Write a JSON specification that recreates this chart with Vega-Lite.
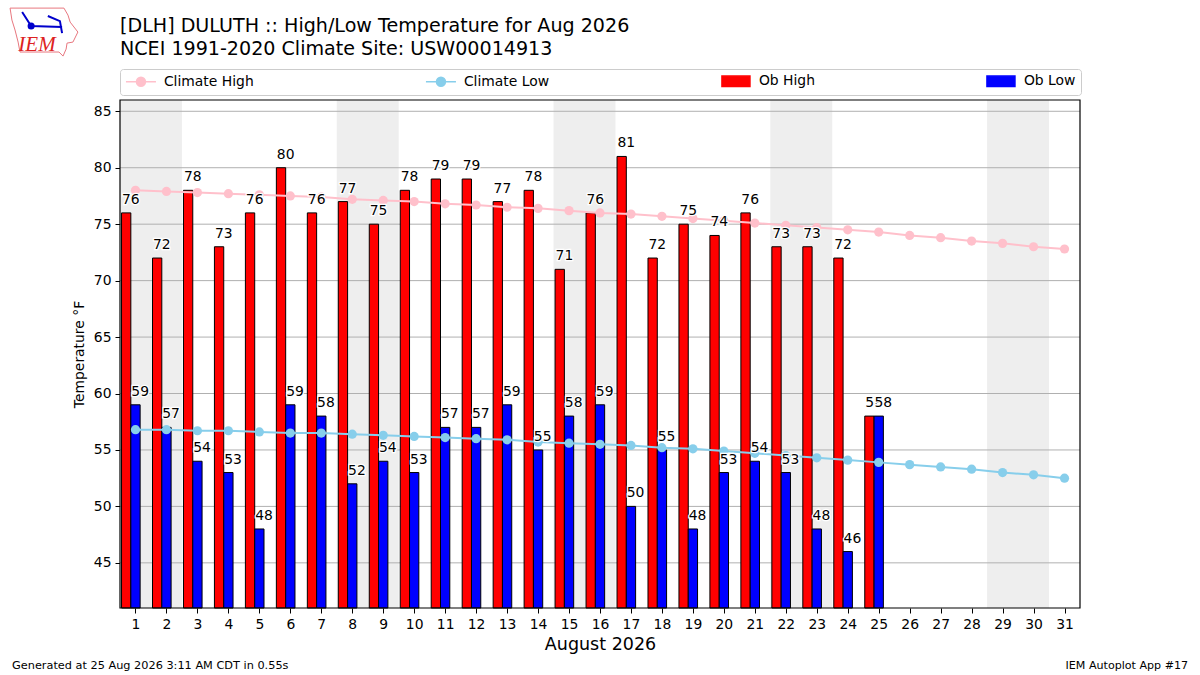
{
  "$schema": "https://vega.github.io/schema/vega-lite/v6.json",
  "width": 960,
  "height": 508,
  "autosize": {"type": "none"},
  "padding": {"left": 120, "top": 100, "right": 120, "bottom": 67},
  "background": "white",
  "title": {
    "text": ["[DLH] DULUTH :: High/Low Temperature for Aug 2026", "NCEI 1991-2020 Climate Site: USW00014913"],
    "anchor": "start",
    "frame": "group",
    "align": "left",
    "fontSize": 19.1,
    "fontWeight": "normal",
    "color": "black",
    "lineHeight": 23,
    "offset": -53
  },
  "config": {
    "font": "DejaVu Sans",
    "view": {"stroke": null}
  },
  "datasets": {
    "daily": [
      {"day": 1, "high": 76, "low": 59, "climate_high": 78.0, "climate_low": 56.8},
      {"day": 2, "high": 72, "low": 57, "climate_high": 77.9, "climate_low": 56.8},
      {"day": 3, "high": 78, "low": 54, "climate_high": 77.8, "climate_low": 56.7},
      {"day": 4, "high": 73, "low": 53, "climate_high": 77.7, "climate_low": 56.7},
      {"day": 5, "high": 76, "low": 48, "climate_high": 77.6, "climate_low": 56.6},
      {"day": 6, "high": 80, "low": 59, "climate_high": 77.5, "climate_low": 56.5},
      {"day": 7, "high": 76, "low": 58, "climate_high": 77.4, "climate_low": 56.5},
      {"day": 8, "high": 77, "low": 52, "climate_high": 77.2, "climate_low": 56.4},
      {"day": 9, "high": 75, "low": 54, "climate_high": 77.1, "climate_low": 56.3},
      {"day": 10, "high": 78, "low": 53, "climate_high": 77.0, "climate_low": 56.2},
      {"day": 11, "high": 79, "low": 57, "climate_high": 76.8, "climate_low": 56.1},
      {"day": 12, "high": 79, "low": 57, "climate_high": 76.7, "climate_low": 56.0},
      {"day": 13, "high": 77, "low": 59, "climate_high": 76.5, "climate_low": 55.9},
      {"day": 14, "high": 78, "low": 55, "climate_high": 76.4, "climate_low": 55.7},
      {"day": 15, "high": 71, "low": 58, "climate_high": 76.2, "climate_low": 55.6},
      {"day": 16, "high": 76, "low": 59, "climate_high": 76.0, "climate_low": 55.5},
      {"day": 17, "high": 81, "low": 50, "climate_high": 75.9, "climate_low": 55.4},
      {"day": 18, "high": 72, "low": 55, "climate_high": 75.7, "climate_low": 55.2},
      {"day": 19, "high": 75, "low": 48, "climate_high": 75.5, "climate_low": 55.1},
      {"day": 20, "high": 74, "low": 53, "climate_high": 75.3, "climate_low": 54.9},
      {"day": 21, "high": 76, "low": 54, "climate_high": 75.1, "climate_low": 54.7},
      {"day": 22, "high": 73, "low": 53, "climate_high": 74.9, "climate_low": 54.5},
      {"day": 23, "high": 73, "low": 48, "climate_high": 74.7, "climate_low": 54.3},
      {"day": 24, "high": 72, "low": 46, "climate_high": 74.5, "climate_low": 54.1},
      {"day": 25, "high": 58, "low": 58, "climate_high": 74.3, "climate_low": 53.9},
      {"day": 26, "high": null, "low": null, "climate_high": 74.0, "climate_low": 53.7},
      {"day": 27, "high": null, "low": null, "climate_high": 73.8, "climate_low": 53.5},
      {"day": 28, "high": null, "low": null, "climate_high": 73.5, "climate_low": 53.3},
      {"day": 29, "high": null, "low": null, "climate_high": 73.3, "climate_low": 53.0},
      {"day": 30, "high": null, "low": null, "climate_high": 73.0, "climate_low": 52.8},
      {"day": 31, "high": null, "low": null, "climate_high": 72.8, "climate_low": 52.5}
    ],
    "weekends": [
      {"start": 0.5, "end": 2.5},
      {"start": 7.5, "end": 9.5},
      {"start": 14.5, "end": 16.5},
      {"start": 21.5, "end": 23.5},
      {"start": 28.5, "end": 30.5}
    ],
    "grid": [{"temp": 45}, {"temp": 50}, {"temp": 55}, {"temp": 60}, {"temp": 65}, {"temp": 70}, {"temp": 75}, {"temp": 80}, {"temp": 85}],
    "logo": [
      {"i": 1, "day": -3.05, "temp": 94.14},
      {"i": 2, "day": -1.31, "temp": 94.14},
      {"i": 3, "day": -1.18, "temp": 93.52},
      {"i": 4, "day": -1.11, "temp": 92.9},
      {"i": 5, "day": -0.86, "temp": 92.02},
      {"i": 6, "day": -1.02, "temp": 91.13},
      {"i": 7, "day": -1.21, "temp": 91.04},
      {"i": 8, "day": -1.24, "temp": 90.51},
      {"i": 9, "day": -1.34, "temp": 89.89},
      {"i": 10, "day": -1.47, "temp": 90.25},
      {"i": 11, "day": -2.73, "temp": 90.25},
      {"i": 12, "day": -2.79, "temp": 91.13},
      {"i": 13, "day": -2.89, "temp": 92.2},
      {"i": 14, "day": -2.99, "temp": 93.08},
      {"i": 15, "day": -3.05, "temp": 94.14}
    ],
    "station": [
      {"part": "arm", "i": 1, "day": -2.66, "temp": 93.79},
      {"part": "arm", "i": 2, "day": -2.37, "temp": 92.55},
      {"part": "arm", "i": 3, "day": -1.37, "temp": 92.46},
      {"part": "vane", "i": 1, "day": -1.83, "temp": 93.44},
      {"part": "vane", "i": 2, "day": -1.44, "temp": 92.99},
      {"part": "vane", "i": 3, "day": -1.37, "temp": 91.93}
    ]
  },
  "data": {"name": "daily"},
  "encoding": {
    "x": {
      "field": "day",
      "type": "quantitative",
      "scale": {"domain": [0.5, 31.5], "nice": false, "zero": false, "padding": 0},
      "axis": {
        "title": "August 2026",
        "titleFontSize": 17.5,
        "titleFontWeight": "normal",
        "titleColor": "black",
        "titlePadding": 5,
        "values": [1, 2, 3, 4, 5, 6, 7, 8, 9, 10, 11, 12, 13, 14, 15, 16, 17, 18, 19, 20, 21, 22, 23, 24, 25, 26, 27, 28, 29, 30, 31],
        "format": "d",
        "labelFontSize": 13.9,
        "labelColor": "black",
        "labelPadding": 4,
        "labelFlush": false,
        "tickColor": "black",
        "tickSize": 5,
        "domain": false,
        "grid": false
      }
    }
  },
  "layer": [
    {
      "data": {"name": "weekends"},
      "mark": {"type": "rect", "color": "#eeeeee"},
      "encoding": {
        "x": {"field": "start", "type": "quantitative"},
        "x2": {"field": "end"}
      }
    },
    {
      "data": {"name": "grid"},
      "mark": {"type": "rule", "color": "#b0b0b0", "strokeWidth": 1},
      "encoding": {
        "x": null,
        "y": {
          "field": "temp",
          "type": "quantitative",
          "scale": {"domain": [41, 86], "nice": false, "zero": false},
          "axis": {
            "title": "Temperature °F",
            "titleFontSize": 13.9,
            "titleFontWeight": "normal",
            "titleColor": "black",
            "titlePadding": 7,
            "values": [45, 50, 55, 60, 65, 70, 75, 80, 85],
            "labelFontSize": 13.9,
            "labelColor": "black",
            "labelPadding": 4,
            "tickColor": "black",
            "tickSize": 5,
            "domain": false,
            "grid": false
          }
        }
      }
    },
    {
      "mark": {"type": "bar", "width": 9.3, "xOffset": -9.3, "stroke": "black", "strokeWidth": 1},
      "encoding": {
        "y": {"field": "high", "type": "quantitative"},
        "y2": {"datum": 41},
        "color": {
          "datum": "Ob High",
          "scale": {
            "domain": ["Climate High", "Climate Low", "Ob High", "Ob Low"],
            "range": ["pink", "skyblue", "#ff0000", "#0000ff"]
          },
          "legend": {
            "title": null,
            "orient": "none",
            "legendX": 0,
            "legendY": -31,
            "columns": 4,
            "columnPadding": 168,
            "padding": 5,
            "strokeColor": "#cccccc",
            "fillColor": "white",
            "cornerRadius": 3,
            "symbolSize": 100,
            "symbolOffset": 9,
            "labelOffset": 16,
            "labelFontSize": 13.9,
            "labelColor": "black",
            "symbolOpacity": 1,
            "symbolStrokeWidth": 1.5,
            "symbolStrokeColor": "black",
            "encoding": {
              "symbols": {
                "shape": {"value": {"expr": "indexof(datum.value, 'Ob') === 0 ? 'M-2.8,-1.05H2.8V1.05H-2.8Z' : 'M-3,0H3M-0.9,0A0.9,0.9 0 1 1 0.9,0A0.9,0.9 0 1 1 -0.9,0Z'"}},
                "fill": {"value": {"expr": "datum.value === 'Climate High' ? 'pink' : datum.value === 'Climate Low' ? 'skyblue' : datum.value === 'Ob High' ? '#ff0000' : '#0000ff'"}},
                "stroke": {"value": {"expr": "datum.value === 'Climate High' ? 'pink' : datum.value === 'Climate Low' ? 'skyblue' : 'black'"}}
              }
            }
          }
        }
      }
    },
    {
      "mark": {"type": "bar", "width": 9.3, "stroke": "black", "strokeWidth": 1},
      "encoding": {
        "y": {"field": "low", "type": "quantitative"},
        "y2": {"datum": 41},
        "color": {"datum": "Ob Low"}
      }
    },
    {
      "data": {"values": [{"start": 0.5, "end": 31.5}]},
      "mark": {"type": "rect", "fill": "transparent", "stroke": "black", "strokeWidth": 1.2},
      "encoding": {
        "x": {"field": "start", "type": "quantitative"},
        "x2": {"field": "end"}
      }
    },
    {
      "mark": {"type": "line", "strokeWidth": 2, "point": {"filled": true, "size": 85, "opacity": 1}},
      "encoding": {
        "y": {"field": "climate_high", "type": "quantitative"},
        "color": {"datum": "Climate High"}
      }
    },
    {
      "mark": {"type": "line", "strokeWidth": 2, "point": {"filled": true, "size": 85, "opacity": 1}},
      "encoding": {
        "y": {"field": "climate_low", "type": "quantitative"},
        "color": {"datum": "Climate Low"}
      }
    },
    {
      "mark": {"type": "text", "dx": -4.65, "dy": -13, "fontSize": 13.9, "stroke": "white", "strokeWidth": 2.5, "fill": "white"},
      "encoding": {
        "y": {"field": "high", "type": "quantitative"},
        "text": {"field": "high", "type": "quantitative"}
      }
    },
    {
      "mark": {"type": "text", "dx": -4.65, "dy": -13, "fontSize": 13.9, "fill": "black"},
      "encoding": {
        "y": {"field": "high", "type": "quantitative"},
        "text": {"field": "high", "type": "quantitative"}
      }
    },
    {
      "mark": {"type": "text", "dx": 4.65, "dy": -13, "fontSize": 13.9, "stroke": "white", "strokeWidth": 2.5, "fill": "white"},
      "encoding": {
        "y": {"field": "low", "type": "quantitative"},
        "text": {"field": "low", "type": "quantitative"}
      }
    },
    {
      "mark": {"type": "text", "dx": 4.65, "dy": -13, "fontSize": 13.9, "fill": "black"},
      "encoding": {
        "y": {"field": "low", "type": "quantitative"},
        "text": {"field": "low", "type": "quantitative"}
      }
    },
    {
      "data": {"name": "logo"},
      "mark": {"type": "line", "color": "#e8777f", "strokeWidth": 1, "clip": false},
      "encoding": {
        "y": {"field": "temp", "type": "quantitative"},
        "order": {"field": "i"}
      }
    },
    {
      "data": {"name": "station"},
      "mark": {"type": "line", "color": "#0000cc", "strokeWidth": 2, "clip": false},
      "encoding": {
        "y": {"field": "temp", "type": "quantitative"},
        "detail": {"field": "part"},
        "order": {"field": "i"}
      }
    },
    {
      "data": {"values": [{"day": -2.37, "temp": 92.55}]},
      "mark": {"type": "point", "filled": true, "size": 50, "color": "#0000cc", "opacity": 1, "clip": false},
      "encoding": {
        "y": {"field": "temp", "type": "quantitative"}
      }
    },
    {
      "data": {"values": [{"label": "IEM", "day": -2.18, "temp": 90.87}]},
      "mark": {"type": "text", "font": "Liberation Serif", "fontStyle": "italic", "fontSize": 21, "fill": "#dd2222"},
      "encoding": {
        "y": {"field": "temp", "type": "quantitative"},
        "text": {"field": "label", "type": "nominal"}
      }
    },
    {
      "data": {"values": [{"label": "Generated at 25 Aug 2026 3:11 AM CDT in 0.55s", "day": -2.987, "temp": 35.86}]},
      "mark": {"type": "text", "align": "left", "fontSize": 11.3, "fill": "black"},
      "encoding": {
        "y": {"field": "temp", "type": "quantitative"},
        "text": {"field": "label", "type": "nominal"}
      }
    },
    {
      "data": {"values": [{"label": "IEM Autoplot App #17", "day": 34.99, "temp": 35.86}]},
      "mark": {"type": "text", "align": "right", "fontSize": 11.1, "fill": "black"},
      "encoding": {
        "y": {"field": "temp", "type": "quantitative"},
        "text": {"field": "label", "type": "nominal"}
      }
    }
  ]
}
